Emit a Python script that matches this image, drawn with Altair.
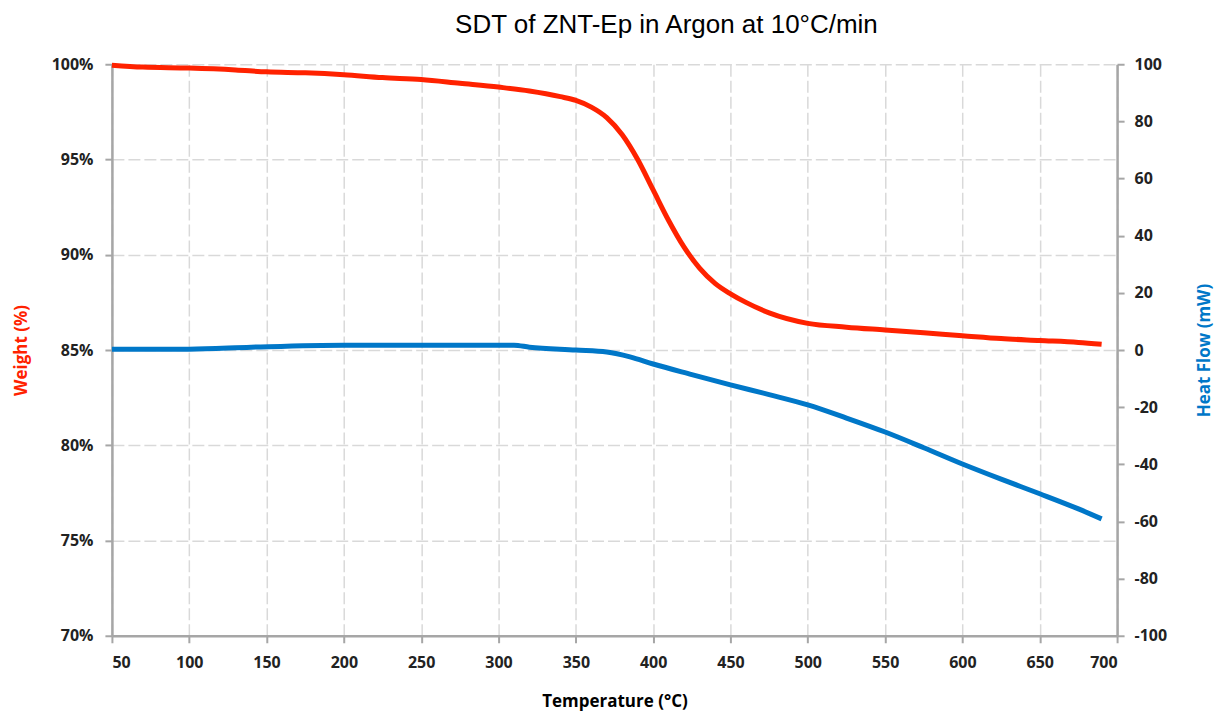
import altair as alt
import pandas as pd

# Weight (%) curve
w_temp = [50, 70, 100, 130, 150, 175, 200, 225, 250, 275, 300, 320, 340, 350, 360, 370, 380, 390,
          400, 410, 420, 430, 440, 450, 460, 475, 500, 525, 550, 575, 600, 625, 650, 675, 690]
w_val = [99.95, 99.85, 99.8, 99.7, 99.6, 99.55, 99.45, 99.3, 99.2, 99.0, 98.8, 98.6, 98.3, 98.1,
         97.75, 97.2, 96.3, 95.0, 93.4, 91.8, 90.4, 89.3, 88.5, 87.95, 87.5, 86.95, 86.4, 86.2,
         86.05, 85.9, 85.75, 85.6, 85.5, 85.4, 85.3]

# Heat flow (mW) curve
h_temp = [50, 100, 140, 200, 250, 310, 320, 350, 370, 385, 400, 425, 450, 475, 500, 525, 550,
          575, 600, 625, 650, 675, 690]
h_val = [0.3, 0.3, 1.0, 1.7, 1.7, 1.7, 1.0, 0.0, -0.7, -2.4, -4.9, -8.6, -12.2, -15.6, -19.2,
         -23.8, -28.7, -34.2, -39.9, -45.2, -50.3, -55.6, -59.1]

wdf = pd.DataFrame({"t": w_temp, "w": [v / 100 for v in w_val]})
hdf = pd.DataFrame({"t": h_temp, "h": h_val})

FONT = "Open Sans"
GRID_DASH = [12, 4]

x = alt.X("t:Q", title="Temperature (°C)",
          scale=alt.Scale(domain=[50, 700], nice=False),
          axis=alt.Axis(values=list(range(50, 701, 50)), grid=True, gridDash=GRID_DASH,
                        gridColor="#d9d9d9", gridWidth=1.5, labelPadding=12, titlePadding=23))

red = alt.Chart(wdf).mark_line(color="#ff2200", strokeWidth=5, interpolate="monotone").encode(
    x=x,
    y=alt.Y("w:Q", title="Weight (%)",
            scale=alt.Scale(domain=[0.70, 1.00], nice=False),
            axis=alt.Axis(format=".0%", values=[0.70, 0.75, 0.80, 0.85, 0.90, 0.95, 1.00],
                          titleColor="#ff2200", grid=True, gridDash=GRID_DASH,
                          gridColor="#d9d9d9", gridWidth=1.5, orient="left",
                          labelPadding=12, titlePadding=21)),
)

blue = alt.Chart(hdf).mark_line(color="#0077c8", strokeWidth=5, interpolate="monotone").encode(
    x=x,
    y=alt.Y("h:Q", title="Heat Flow (mW)",
            scale=alt.Scale(domain=[-100, 100], nice=False),
            axis=alt.Axis(values=list(range(-100, 101, 20)), titleColor="#0077c8",
                          labelExpr="'' + datum.value", titleAngle=270,
                          grid=False, orient="right", labelPadding=10, titlePadding=47)),
)

chart = alt.layer(red, blue).resolve_scale(y="independent").properties(
    width=1006, height=572,
    autosize=alt.AutoSizeParams(type="none"),
    padding={"left": 104, "right": 100, "top": 56, "bottom": 78},
    title=alt.Title("SDT of ZNT-Ep in Argon at 10°C/min", font="Liberation Sans",
                    fontSize=26, fontWeight="normal", color="#000000", offset=17, dx=52),
).configure_view(stroke=None).configure_axis(
    labelFont=FONT, labelFontSize=16, labelFontWeight="bold", labelColor="#222222",
    titleFont=FONT, titleFontSize=17, titleFontWeight="bold", titleColor="#000000",
    domainColor="#a6a6a6", domainWidth=2.5, tickColor="#a6a6a6", tickWidth=2, tickSize=7,
)

chart.save("out.html", embed_options={"renderer": "svg", "actions": False})
